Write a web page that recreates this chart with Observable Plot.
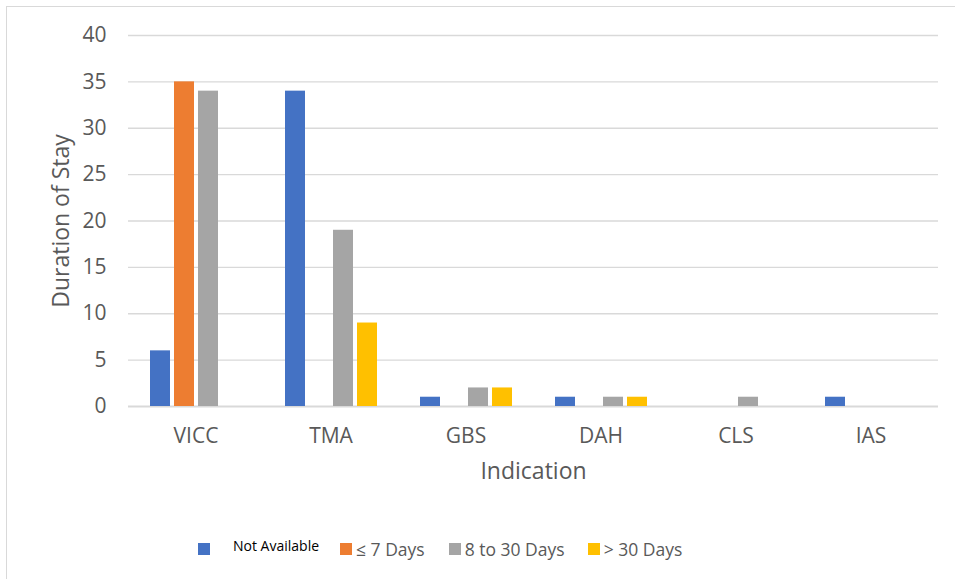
<!DOCTYPE html>
<html>
<head>
<meta charset="utf-8">
<script src="https://cdn.jsdelivr.net/npm/d3@7"></script>
<script src="https://cdn.jsdelivr.net/npm/@observablehq/plot@0.6"></script>
<style>
  html, body { margin: 0; padding: 0; background: #fff; }
  #wrap { position: relative; width: 955px; height: 579px; overflow: hidden; font-family: "Open Sans", sans-serif; }
  #border { position: absolute; left: 6px; top: 6px; width: 960px; height: 580px; border-left: 1.5px solid #d9d9d9; border-top: 1.5px solid #d9d9d9; }
  #chart { position: absolute; left: 0; top: 0; }
  #legend { position: absolute; top: 537px; left: 198px; display: flex; align-items: center; white-space: nowrap; }
  .item { display: flex; align-items: center; }
  .sw { width: 12px; height: 12px; display: inline-block; }
  .lab { color: #595959; font-size: 17.5px; margin-left: 4px; }
</style>
</head>
<body>
<div id="wrap">
  <div id="border"></div>
  <div id="chart"></div>
  <div id="legend"></div>
</div>
<script>
const categories = ["VICC", "TMA", "GBS", "DAH", "CLS", "IAS"];
const series = ["Not Available", "\u2264 7 Days", "8 to 30 Days", "> 30 Days"];
const colors = ["#4472C4", "#ED7D31", "#A5A5A5", "#FFC000"];
const notAvailable = [6, 34, 1, 1, 0, 1];
const upTo7 = [35, 0, 0, 0, 0, 0];
const from8to30 = [34, 19, 2, 1, 1, 0];
const over30 = [0, 9, 2, 1, 0, 0];
const yTicks = [0, 5, 10, 15, 20, 25, 30, 35, 40];

const seriesValues = [notAvailable, upTo7, from8to30, over30];
const data = [];
categories.forEach((c, i) => {
  series.forEach((s, j) => data.push({cat: c, series: s, value: seriesValues[j][i]}));
});

const chart = Plot.plot({
  width: 955,
  height: 500,
  marginLeft: 128,
  marginRight: 17,
  marginTop: 35,
  marginBottom: 94,
  style: {fontFamily: "Open Sans, sans-serif", fontSize: "21px", color: "#595959", background: "transparent"},
  fx: {domain: categories, padding: 0},
  x: {domain: series, paddingInner: 0.184, paddingOuter: 0.847, axis: null},
  y: {domain: [0, 40]},
  color: {domain: series, range: colors},
  marks: [
    Plot.ruleY(yTicks.filter(d => d > 0), {stroke: "#d9d9d9", strokeWidth: 1.3}),
    Plot.ruleY([0], {stroke: "#d9d9d9", strokeWidth: 2}),
    Plot.barY(data, {fx: "cat", x: "series", y: "value", fill: "series"}),
    Plot.axisY({ticks: yTicks, tickSize: 0, tickPadding: 22, fontSize: 21, label: "Duration of Stay", labelAnchor: "center", labelOffset: 76, labelArrow: "none"}),
    Plot.axisFx({anchor: "bottom", tickSize: 0, tickPadding: 22, fontSize: 21, label: "Indication", labelAnchor: "center", labelOffset: 72, labelArrow: "none"})
  ]
});
document.getElementById("chart").appendChild(chart);
d3.select(chart).selectAll('g[aria-label$="axis label"] text').attr("font-size", "23px").style("font-size", "23px");

const legend = document.getElementById("legend");
const margins = [0, 21, 24, 23];
series.forEach((s, j) => {
  const item = document.createElement("div");
  item.className = "item";
  item.style.marginLeft = margins[j] + "px";
  const sw = document.createElement("span");
  sw.className = "sw";
  sw.style.background = colors[j];
  const lab = document.createElement("span");
  lab.className = "lab";
  lab.textContent = s;
  if (j === 0) {
    lab.style.color = "#000";
    lab.style.fontSize = "14px";
    lab.style.marginLeft = "23px";
    lab.style.position = "relative";
    lab.style.top = "-4px";
  }
  item.appendChild(sw);
  item.appendChild(lab);
  legend.appendChild(item);
});
</script>
</body>
</html>
